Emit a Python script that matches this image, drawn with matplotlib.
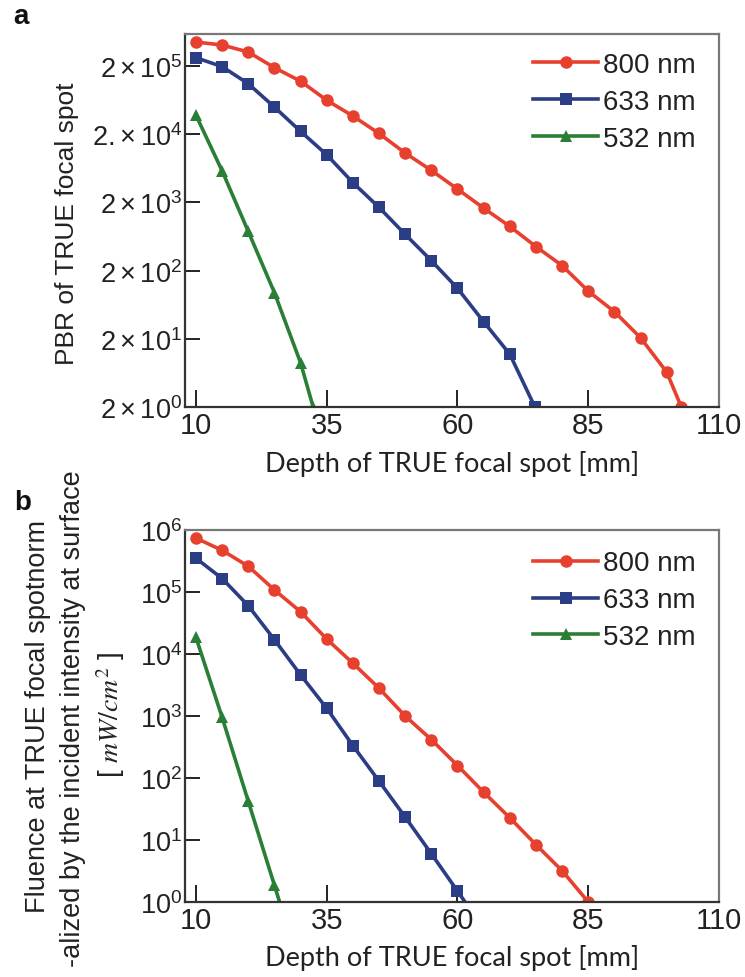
import matplotlib
matplotlib.use("Agg")
import matplotlib.pyplot as plt
from matplotlib.ticker import FixedLocator, FixedFormatter, NullLocator

plt.rcParams['font.family'] = ['Liberation Sans', 'DejaVu Sans']
plt.rcParams['mathtext.fontset'] = 'custom'
plt.rcParams['mathtext.rm'] = 'Liberation Sans'
plt.rcParams['mathtext.it'] = 'Liberation Sans:italic'
plt.rcParams['mathtext.bf'] = 'Liberation Sans:bold'

# ---------------- data ----------------
labels = ['800 nm', '633 nm', '532 nm']
colors = ['#E8402F', '#2B3D85', '#2A7F36']
markers = ['o', 's', '^']

# Panel a: PBR of TRUE focal spot
a_x_800 = [10, 15, 20, 25, 30, 35, 40, 45, 50, 55, 60, 65, 70, 75, 80, 85, 90, 95, 100, 102.8]
a_y_800 = [4.5e5, 4.07e5, 3.21e5, 1.89e5, 1.20e5, 6.3e4, 3.7e4, 2.05e4, 1.06e4, 5.9e3,
           3.14e3, 1.65e3, 890, 450, 237, 100, 50, 20.7, 6.5, 2.0]
a_x_633 = [10, 15, 20, 25, 30, 35, 40, 45, 50, 55, 60, 65, 70, 74.8]
a_y_633 = [2.65e5, 1.96e5, 1.10e5, 5.0e4, 2.2e4, 1.0e4, 3.9e3, 1.69e3, 680, 280, 110, 35.6, 11.9, 2.0]
a_x_532 = [10, 15, 20, 25, 30, 32.4]
a_y_532 = [3.8e4, 5.8e3, 750, 95, 8.9, 2.0]

# Panel b: normalized fluence at TRUE focal spot
b_x_800 = [10, 15, 20, 25, 30, 35, 40, 45, 50, 55, 60, 65, 70, 75, 80, 85]
b_y_800 = [7.4e5, 4.7e5, 2.6e5, 1.08e5, 4.8e4, 1.74e4, 7.1e3, 2.8e3, 1.0e3, 416,
           159, 59, 22.8, 8.4, 3.2, 1.0]
b_x_633 = [10, 15, 20, 25, 30, 35, 40, 45, 50, 55, 60, 65]
b_y_633 = [3.5e5, 1.65e5, 6.0e4, 1.7e4, 4.6e3, 1.33e3, 333, 89, 23.4, 6.0, 1.5, 0.37]
b_x_532 = [10, 15, 20, 25, 30]
b_y_532 = [1.85e4, 950, 42, 1.86, 0.08]

x_ticks = [10, 35, 60, 85, 110]
a_yticks = [2, 20, 200, 2000, 20000, 200000]
a_yticklabels = [r'$2\times10^{0}$', r'$2\times10^{1}$', r'$2\times10^{2}$',
                 r'$2\times10^{3}$', r'$2.\!\times10^{4}$', r'$2\times10^{5}$']
b_yticks = [1, 10, 100, 1000, 10000, 100000, 1000000]
b_yticklabels = [r'$10^{0}$', r'$10^{1}$', r'$10^{2}$', r'$10^{3}$',
                 r'$10^{4}$', r'$10^{5}$', r'$10^{6}$']

W, H = 745, 978
fig = plt.figure(figsize=(W / 100, H / 100), dpi=100)

def ax_rect(l, t, r, b):
    return [l / W, 1 - b / H, (r - l) / W, (b - t) / H]

axA = fig.add_axes(ax_rect(185, 35, 719, 408))
axB = fig.add_axes(ax_rect(185, 531, 719, 903))

def style(ax, yticks, yticklabels, ylim, labelpad):
    ax.set_yscale('log')
    ax.set_xlim(7.9, 110)
    ax.set_ylim(*ylim)
    ax.xaxis.set_major_locator(FixedLocator(x_ticks))
    ax.xaxis.set_major_formatter(FixedFormatter([str(t) for t in x_ticks]))
    ax.yaxis.set_major_locator(FixedLocator(yticks))
    ax.yaxis.set_major_formatter(FixedFormatter(yticklabels))
    ax.yaxis.set_minor_locator(NullLocator())
    ax.xaxis.set_minor_locator(NullLocator())
    ax.tick_params(axis='x', direction='in', length=12, width=1.4, labelsize=21,
                   pad=3, colors='#222222', top=False)
    ax.tick_params(axis='y', direction='in', length=11, width=1.4, labelsize=19.5,
                   pad=2, colors='#222222', right=False)
    for s in ['left', 'bottom']:
        ax.spines[s].set_color('#333333')
        ax.spines[s].set_linewidth(1.6)
    for s in ['top', 'right']:
        ax.spines[s].set_color('#777777')
        ax.spines[s].set_linewidth(1.6)
    ax.set_xlabel('Depth of TRUE focal spot [mm]', fontsize=19.5, family=['Lato', 'DejaVu Sans'],
                  color='#222222', labelpad=labelpad)

def plot_series(ax, xs, ys, anchor_y):
    for x, y, c, m, lab in zip(xs, ys, colors, markers, labels):
        ms = 9 if m == 'o' else 8
        ax.plot(x, y, color=c, marker=m, markersize=ms, linewidth=2.6, label=lab,
                markeredgewidth=0, clip_on=True)
    leg = ax.legend(loc='upper left', bbox_to_anchor=(0.652, anchor_y), frameon=False,
                    fontsize=20, handlelength=2.35, handletextpad=0.18, labelspacing=0.39,
                    borderaxespad=0, borderpad=0)
    for t in leg.get_texts():
        t.set_color('#222222')

plot_series(axA, [a_x_800, a_x_633, a_x_532], [a_y_800, a_y_633, a_y_532], 0.952)
plot_series(axB, [b_x_800, b_x_633, b_x_532], [b_y_800, b_y_633, b_y_532], 0.945)

style(axA, a_yticks, a_yticklabels, (2, 5.9e5), 8)
style(axB, b_yticks, b_yticklabels, (1, 1e6), 7)

fig.text(67 / W, 1 - 224 / H, 'PBR of TRUE focal spot', rotation=90, ha='center', va='center',
         fontsize=19, color='#222222')

fig.text(38 / W, 1 - 717 / H, 'Fluence at TRUE focal spotnorm', rotation=90, ha='center',
         va='center', fontsize=19.5, color='#222222')
fig.text(73 / W, 1 - 719 / H, '-alized by the incident intensity at surface', rotation=90,
         ha='center', va='center', fontsize=19.5, color='#222222')
fig.text(111 / W, 1 - 715 / H, r'[ $mW/cm^2$ ]', rotation=90, ha='center', va='center',
         fontsize=20, color='#222222', math_fontfamily='stix')

fig.text(13 / W, 1 - 17 / H, 'a', fontsize=20, fontweight='bold', ha='left', va='center',
         color='#111111')
fig.text(14 / W, 1 - 503 / H, 'b', fontsize=20, fontweight='bold', ha='left', va='center',
         color='#111111')

fig.savefig('out.png', dpi=100)
